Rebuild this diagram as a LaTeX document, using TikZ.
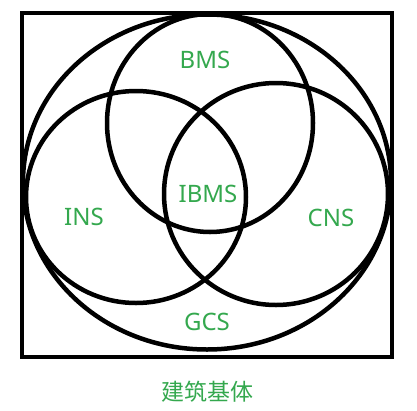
\documentclass[tikz,border=0pt]{standalone}
\usepackage{fontspec}
\setmainfont{Noto Sans}
\newfontfamily\cjk{Noto Sans CJK SC}
\usetikzlibrary{shapes.geometric,positioning}
\definecolor{labgreen}{RGB}{52,168,78}
\tikzset{
    ring/.style = {
        draw,
        ellipse,
        line width=4.5pt,
        inner sep=0pt
    },
    frame/.style = {
        draw,
        rectangle,
        line width=4.5pt,
        inner sep=0pt
    },
    lbl/.style = {
        text=labgreen,
        font=\fontsize{24}{26}\selectfont
    }
}
\begin{document}
\begin{tikzpicture}[x=1pt,y=-1pt]
            \useasboundingbox (0,0) rectangle (417,410);
            % outline
            \node [frame,minimum width=370pt,minimum height=344pt] (body) at (207,185) {};
            % rings
            \node [ring,minimum width=368pt,minimum height=335pt] (gcs) at (207,182) {};
            \node [ring,minimum width=206pt,minimum height=218pt] (bms) at (210,123) {};
            \node [ring,minimum width=220pt,minimum height=212pt] (ins) at (136,197) {};
            \node [ring,minimum width=224pt,minimum height=222pt] (cns) at (276,194) {};
            % labels
            \node [lbl] (bmslbl) at (205,60) {BMS};
            \node [lbl] (ibmslbl) at (208,194) {IBMS};
            \node [lbl] (inslbl) at (84,217) {INS};
            \node [lbl] (cnslbl) at (331,218) {CNS};
            \node [lbl] (gcslbl) at (207,322) {GCS};
            \node [lbl,font=\cjk\fontsize{23}{25}\selectfont,below=18pt of body.south] (basis) {建筑基体};
        \end{tikzpicture}
\end{document}
